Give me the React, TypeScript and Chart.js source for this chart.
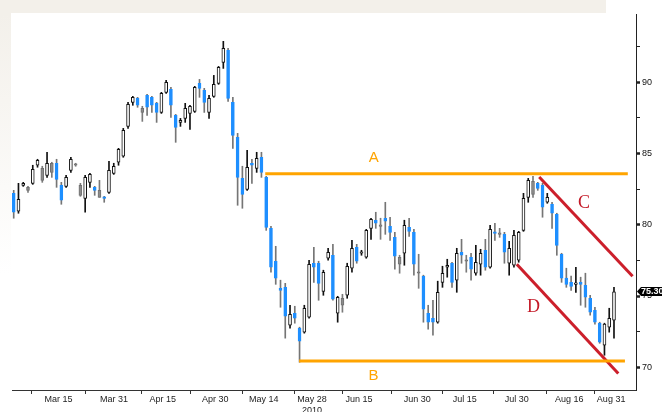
import React, { useEffect, useRef } from "react";
import { Chart, registerables } from "chart.js";

Chart.register(...registerables);

// ---- Daily OHLC (Mar–Aug 2010) ----
const opens = [
  82.21, 80.95, 82.77, 82.42, 82.91, 84.18, 83.12, 83.47, 83.68, 84.32,
  82.77, 82.70, 83.82, 84.18, 82.07, 81.86, 82.98, 82.63, 81.93, 81.93,
  82.28, 83.61, 84.39, 84.81, 86.91, 88.60, 88.88, 87.89, 89.09, 88.95,
  88.53, 87.89, 89.30, 89.51, 87.68, 87.19, 87.47, 87.82, 87.96, 89.93,
  89.44, 87.89, 89.02, 89.93, 91.40, 92.25, 88.60, 86.14, 83.26, 82.49,
  84.32, 83.96, 84.74, 83.33, 79.75, 77.44, 75.54, 75.61, 72.95, 73.79,
  72.74, 72.46, 73.51, 77.30, 77.30, 75.33, 77.65, 77.86, 73.79, 74.35,
  75.05, 76.95, 78.42, 78.00, 77.72, 79.75, 80.32, 79.89, 80.46, 79.89,
  79.12, 77.23, 78.00, 79.82, 79.47, 76.60, 76.39, 73.79, 73.44, 73.16,
  75.96, 77.02, 77.30, 76.11, 78.07, 77.44, 77.72, 76.60, 77.23, 78.21,
  77.02, 79.47, 79.33, 79.33, 77.30, 77.16, 77.51, 79.61, 81.93, 82.14,
  82.91, 82.77, 81.58, 81.44, 80.74, 77.93, 76.25, 75.96, 75.82, 75.96,
  75.75, 74.84, 74.00, 73.09, 71.54, 72.81, 73.30,
];
const highs = [
  82.42, 82.91, 82.98, 82.70, 84.18, 84.60, 84.11, 85.09, 84.39, 84.60,
  82.98, 83.47, 84.74, 84.32, 82.91, 83.47, 83.61, 82.70, 83.12, 82.00,
  84.46, 84.32, 85.37, 86.77, 88.60, 89.02, 88.95, 88.32, 89.16, 89.02,
  88.60, 89.30, 90.14, 89.65, 87.75, 87.47, 88.53, 88.39, 89.72, 90.21,
  89.58, 89.09, 90.49, 91.12, 92.88, 92.39, 88.95, 86.42, 84.11, 85.23,
  84.60, 85.09, 85.09, 83.40, 79.89, 78.49, 76.11, 75.89, 74.35, 74.28,
  72.81, 74.35, 77.51, 78.42, 77.44, 76.81, 78.35, 78.63, 74.98, 75.12,
  77.30, 78.91, 78.63, 78.21, 79.68, 80.46, 80.88, 80.46, 81.58, 80.53,
  79.47, 77.86, 80.32, 80.46, 79.68, 77.93, 76.46, 74.35, 74.70, 76.04,
  77.09, 77.58, 77.37, 78.35, 78.98, 77.86, 78.00, 78.56, 78.28, 78.98,
  79.96, 80.11, 79.75, 79.47, 78.84, 79.61, 79.54, 82.21, 83.26, 83.40,
  82.98, 82.91, 82.21, 81.58, 80.81, 78.00, 76.95, 76.39, 77.02, 76.32,
  76.60, 75.05, 74.21, 73.16, 73.09, 74.14, 75.61,
];
const lows = [
  80.46, 80.81, 82.70, 82.28, 82.84, 84.04, 82.98, 83.33, 83.33, 82.63,
  81.44, 82.63, 83.68, 84.11, 82.00, 80.88, 82.63, 82.07, 81.93, 81.58,
  82.21, 83.54, 84.18, 84.74, 86.77, 88.39, 88.25, 87.26, 87.68, 87.89,
  87.19, 87.82, 89.23, 87.54, 85.79, 86.91, 87.19, 86.70, 87.89, 88.95,
  87.89, 87.47, 88.95, 89.86, 90.98, 88.67, 85.37, 81.37, 81.16, 82.42,
  82.91, 83.68, 83.33, 79.61, 76.67, 75.82, 74.21, 72.04, 72.74, 73.09,
  70.35, 72.39, 73.44, 75.96, 74.70, 75.05, 77.51, 74.70, 73.16, 73.86,
  74.84, 76.67, 77.30, 77.86, 77.65, 78.98, 79.75, 78.98, 79.33, 78.91,
  76.88, 76.60, 77.16, 79.19, 76.46, 75.54, 73.16, 72.67, 72.25, 73.09,
  75.61, 76.32, 75.61, 75.26, 77.30, 76.67, 76.11, 76.46, 76.46, 76.81,
  76.95, 78.91, 79.12, 77.30, 76.46, 77.02, 77.37, 79.54, 81.58, 81.93,
  82.42, 80.53, 81.51, 79.75, 77.86, 75.96, 75.61, 75.40, 75.26, 74.35,
  74.21, 73.65, 73.02, 71.68, 70.84, 72.46, 72.04,
];
const closes = [
  80.88, 81.79, 82.91, 82.63, 83.89, 84.53, 83.96, 84.32, 84.32, 83.19,
  81.72, 83.33, 84.60, 84.25, 82.77, 83.33, 83.54, 82.42, 82.42, 81.86,
  83.82, 84.11, 85.30, 86.63, 88.46, 88.95, 88.39, 88.18, 88.25, 88.39,
  87.89, 89.23, 90.00, 88.39, 86.84, 87.33, 88.18, 88.32, 89.65, 89.58,
  88.60, 88.88, 89.86, 91.05, 92.39, 88.88, 86.28, 83.33, 82.14, 84.04,
  84.18, 84.67, 83.68, 79.82, 77.02, 76.25, 75.40, 73.58, 73.72, 73.44,
  71.82, 74.14, 77.23, 77.02, 75.89, 76.67, 78.07, 74.77, 74.91, 74.84,
  77.09, 78.35, 77.44, 78.07, 79.61, 80.39, 80.11, 79.96, 80.25, 79.47,
  77.79, 77.72, 79.96, 79.54, 77.23, 76.67, 74.07, 73.16, 73.16, 75.26,
  76.60, 77.16, 75.96, 78.00, 77.86, 77.51, 76.88, 77.37, 78.00, 77.02,
  79.68, 79.40, 79.40, 78.07, 78.35, 79.26, 79.47, 81.86, 83.12, 83.05,
  82.56, 81.23, 81.93, 80.81, 78.56, 76.25, 75.82, 75.68, 75.89, 75.82,
  74.91, 73.86, 73.16, 71.75, 73.02, 73.44, 75.30,
];

// ---- Axis ticks (x in trading-day index units) ----
const xTickMarks = [3.8, 15, 26.9, 37.2, 48.1, 59, 69.1, 79.2, 90.1, 100.8, 111.9, 122];
const xLabelPos = [9.4, 21.05, 31.3, 42.3, 52.5, 62.6, 72.5, 84.7, 94.7, 105.6, 116.6, 125.4];
const xLabels = ["Mar 15", "Mar 31", "Apr 15", "Apr 30", "May 14", "May 28", "Jun 15", "Jun 30", "Jul 15", "Jul 30", "Aug 16", "Aug 31"];
const yearLabel = "2010";
const yearLabelIndex = 5;
const yTicks = [70, 72.5, 75, 77.5, 80, 82.5, 85, 87.5, 90, 92.5];

// ---- Drawn trend lines (index, price) ----
const lineA = [{ x: 52.8, y: 83.58 }, { x: 128.9, y: 83.58 }];
const lineB = [{ x: 59.9, y: 70.44 }, { x: 128.3, y: 70.44 }];
const lineC = [{ x: 110.3, y: 83.35 }, { x: 129.9, y: 76.39 }];
const lineD = [{ x: 105.6, y: 77.23 }, { x: 126.9, y: 69.56 }];
const lineLabels = ["A", "B", "C", "D"];
const lineLabelX = [75.6, 75.5, 119.7, 109.1];
const lineLabelY = [84.69, 69.38, 81.49, 74.23];

const X_MIN = -0.357;
const X_MAX = 130.62;
const Y_MIN = 68.4;
const Y_MAX = 94.8;

const ORANGE = "#ffa400";
const RED = "#cc1f2b";
const LABEL_RED = "#c41a28";
const BLUE = "#1e8fff";

export default function App() {
  const ref = useRef<HTMLCanvasElement | null>(null);

  useEffect(() => {
    const canvas = ref.current;
    if (!canvas) return;
    const n = opens.length;
    const idx = opens.map((_, i) => i);
    const kind = closes.map((c, i) => {
      if (c < opens[i]) return "down";
      const prev = i > 0 ? closes[i - 1] : opens[i];
      return c > prev ? "up" : "gray";
    });
    const bodyFill = kind.map((k) => (k === "down" ? BLUE : k === "up" ? "#ffffff" : "#8c8c8c"));
    const bodyBorder = kind.map((k) => (k === "down" ? BLUE : k === "up" ? "#111111" : "#707070"));
    const wickColor = kind.map((k) => (k === "down" ? "#757575" : k === "up" ? "#111111" : "#7a7a7a"));

    const bgPlugin = {
      id: "bg",
      beforeDraw(chart: any) {
        const { ctx, width, height, chartArea } = chart;
        ctx.save();
        ctx.fillStyle = "#ffffff";
        ctx.fillRect(0, 0, width, height);
        ctx.fillStyle = "#f3f0ea";
        ctx.fillRect(0, 0, chartArea.right - 30, chartArea.top - 1);
        const g = ctx.createLinearGradient(0, chartArea.top, 0, chartArea.top + 260);
        g.addColorStop(0, "#f3f0ea");
        g.addColorStop(1, "#ffffff");
        ctx.fillStyle = g;
        ctx.fillRect(0, chartArea.top - 1, chartArea.left - 1, 260);
        ctx.restore();
      },
    };

    const textPlugin = {
      id: "lineText",
      afterDatasetsDraw(chart: any) {
        const { ctx, scales } = chart;
        ctx.save();
        ctx.textAlign = "center";
        ctx.textBaseline = "middle";
        lineLabels.forEach((t, i) => {
          const px = scales.x.getPixelForValue(lineLabelX[i]);
          const py = scales.y.getPixelForValue(lineLabelY[i]);
          if (i < 2) {
            ctx.fillStyle = ORANGE;
            ctx.font = '15px "Liberation Sans", Arial, sans-serif';
          } else {
            ctx.fillStyle = LABEL_RED;
            ctx.font = '18px "Liberation Serif", "DejaVu Serif", serif';
          }
          ctx.fillText(t, px, py);
        });
        ctx.restore();
      },
    };

    const tagPlugin = {
      id: "lastTag",
      afterDraw(chart: any) {
        const { ctx, scales, chartArea } = chart;
        const last = closes[n - 1];
        const y = Math.round(scales.y.getPixelForValue(last)) - 0.5;
        const x = chartArea.right + 1;
        ctx.save();
        ctx.fillStyle = "#000";
        ctx.beginPath();
        ctx.moveTo(x, y);
        ctx.lineTo(x + 4, y - 4.5);
        ctx.lineTo(x + 25, y - 4.5);
        ctx.lineTo(x + 25, y + 4.5);
        ctx.lineTo(x + 4, y + 4.5);
        ctx.closePath();
        ctx.fill();
        ctx.fillStyle = "#fff";
        ctx.font = 'bold 9px "Liberation Sans Narrow", "Liberation Sans", Arial, sans-serif';
        ctx.textBaseline = "middle";
        ctx.textAlign = "left";
        ctx.fillText(last.toFixed(2), x + 4, y + 0.5);
        ctx.restore();
      },
    };

    const tickFont = { family: '"Liberation Sans Narrow", "Liberation Sans", Arial, sans-serif', size: 9 };

    const chart = new Chart(canvas, {
      type: "bar",
      data: {
        datasets: [
          {
            type: "bar",
            label: "wick",
            data: idx.map((i) => ({ x: i, y: [lows[i], highs[i]] })) as any,
            backgroundColor: wickColor,
            barThickness: 1,
            grouped: false,
            order: 3,
          } as any,
          {
            type: "bar",
            label: "body",
            data: idx.map((i) => ({ x: i, y: [Math.min(opens[i], closes[i]), Math.max(opens[i], closes[i])] })) as any,
            backgroundColor: bodyFill,
            borderColor: bodyBorder,
            borderWidth: 1,
            borderSkipped: false,
            barThickness: 3,
            minBarLength: 1.5,
            grouped: false,
            order: 2,
          } as any,
          { type: "line", label: "A", data: lineA, borderColor: ORANGE, borderWidth: 3, pointRadius: 0, order: 1 } as any,
          { type: "line", label: "B", data: lineB, borderColor: ORANGE, borderWidth: 3, pointRadius: 0, order: 1 } as any,
          { type: "line", label: "C", data: lineC, borderColor: RED, borderWidth: 3, pointRadius: 0, order: 1 } as any,
          { type: "line", label: "D", data: lineD, borderColor: RED, borderWidth: 3, pointRadius: 0, order: 1 } as any,
        ],
      },
      options: {
        responsive: false,
        animation: false,
        events: [],
        layout: { padding: { left: 12, top: 14, right: 0, bottom: 0 } },
        plugins: { legend: { display: false }, tooltip: { enabled: false } },
        scales: {
          x: {
            type: "linear",
            position: "bottom",
            weight: 0,
            min: X_MIN,
            max: X_MAX,
            offset: false,
            afterBuildTicks: (s: any) => {
              s.ticks = xTickMarks.map((v) => ({ value: v }));
            },
            afterFit: (s: any) => {
              s.height = 4;
            },
            ticks: { display: false },
            grid: { offset: false, drawOnChartArea: false, drawTicks: true, tickLength: 4, tickColor: "#333", tickWidth: 1 },
            border: { display: true, color: "#333", width: 1 },
          } as any,
          xl: {
            type: "linear",
            position: "bottom",
            axis: "x",
            weight: 1,
            min: X_MIN,
            max: X_MAX,
            offset: false,
            afterBuildTicks: (s: any) => {
              s.ticks = xLabelPos.map((v) => ({ value: v }));
            },
            afterFit: (s: any) => {
              s.height = 18;
            },
            ticks: {
              autoSkip: false,
              maxRotation: 0,
              minRotation: 0,
              padding: 0,
              font: tickFont,
              color: "#222",
              callback: (_v: any, i: number) => (i === yearLabelIndex ? [xLabels[i], yearLabel] : xLabels[i]),
            },
            grid: { display: false, drawTicks: false, offset: false },
            border: { display: false },
          } as any,
          y: {
            type: "linear",
            position: "right",
            min: Y_MIN,
            max: Y_MAX,
            afterBuildTicks: (s: any) => {
              s.ticks = yTicks.map((v) => ({ value: v }));
            },
            afterFit: (s: any) => {
              s.width = 32;
            },
            ticks: {
              padding: 2,
              font: tickFont,
              color: "#111",
              callback: (v: any) => (Number(v) % 5 === 0 ? String(v) : ""),
            },
            grid: {
              drawOnChartArea: false,
              drawTicks: true,
              tickLength: 4,
              tickColor: "#222",
              tickWidth: (ctx: any) => (ctx.tick && ctx.tick.value % 5 === 0 ? 2.5 : 1),
            },
            border: { display: true, color: "#222", width: 1 },
          } as any,
        },
      },
      plugins: [bgPlugin, textPlugin, tagPlugin],
    });

    return () => chart.destroy();
  }, []);

  return (
    <div style={{ position: "fixed", left: 0, top: 0, width: 668, height: 412 }}>
      <canvas ref={ref} width={668} height={412} style={{ display: "block", width: 668, height: 412 }} />
    </div>
  );
}
